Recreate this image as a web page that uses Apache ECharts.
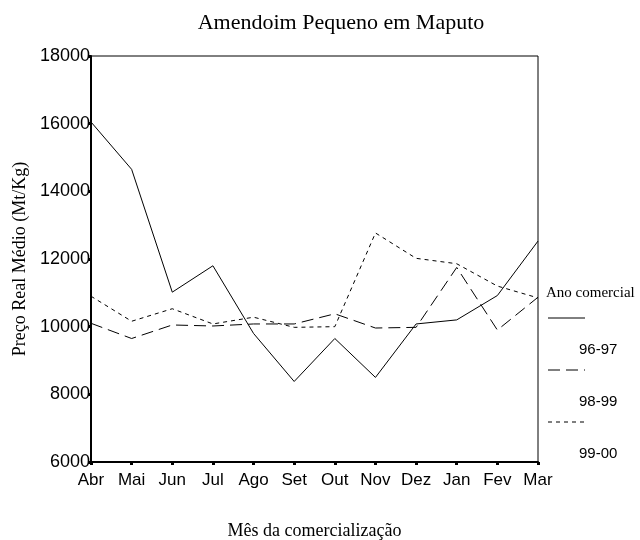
<!DOCTYPE html>
<html>
<head>
<meta charset="utf-8">
<script src="https://cdn.jsdelivr.net/npm/echarts@6/dist/echarts.min.js"></script>
<style>
  html, body { margin: 0; padding: 0; background: #fff; }
  #chartDom { width: 640px; height: 540px; }
</style>
</head>
<body>
<div id="chartDom"></div>
<script>
// dados
var meses = ['Abr', 'Mai', 'Jun', 'Jul', 'Ago', 'Set', 'Out', 'Nov', 'Dez', 'Jan', 'Fev', 'Mar'];
var anos = ['96-97', '98-99', '99-00'];
var preco9697 = [16050, 14650, 11020, 11800, 9800, 8380, 9650, 8500, 10080, 10200, 10920, 12530];
var preco9899 = [10100, 9650, 10050, 10020, 10080, 10080, 10380, 9960, 9980, 11750, 9900, 10870];
var preco9900 = [10900, 10160, 10530, 10080, 10280, 9980, 10000, 12770, 12020, 11860, 11200, 10850];

var tracos = ['solid', [12, 6], [4, 4]];
var valores = [preco9697, preco9899, preco9900];

var chartDom = document.getElementById('chartDom');
var myChart = echarts.init(chartDom);

var series = anos.map(function (nome, i) {
  return {
    name: nome,
    type: 'line',
    data: valores[i],
    symbol: 'none',
    lineStyle: { color: '#000', width: 1, type: tracos[i] },
    silent: true
  };
});

// legenda desenhada à direita (linha em cima, texto em baixo)
var legenda = [{
  type: 'text', left: 546, top: 286,
  style: { text: 'Ano comercial', font: '15px "Liberation Serif"', fill: '#000' }
}];
anos.forEach(function (nome, i) {
  var y0 = 318 + i * 52;
  legenda.push({
    type: 'line',
    shape: { x1: 548, y1: y0, x2: 585, y2: y0 },
    style: { stroke: '#000', lineWidth: 1, lineDash: tracos[i] === 'solid' ? null : tracos[i] }
  });
  legenda.push({
    type: 'text', left: 579, top: y0 + 24,
    style: { text: nome, font: '15px "Liberation Sans"', fill: '#000' }
  });
});

var option = {
  backgroundColor: '#fff',
  animation: false,
  title: {
    text: 'Amendoim Pequeno em Maputo',
    left: 336, top: 7, textAlign: 'center',
    textStyle: { fontFamily: 'Liberation Serif', fontSize: 22, fontWeight: 'normal', color: '#000' }
  },
  grid: {
    left: 91, right: 102, top: 56, bottom: 78,
    outerBoundsMode: 'none',
    containLabel: false,
    show: true, borderColor: '#000', borderWidth: 1
  },
  xAxis: {
    type: 'category',
    data: meses,
    boundaryGap: false,
    name: 'Mês da comercialização',
    nameLocation: 'middle',
    nameGap: 60,
    nameTextStyle: { fontFamily: 'Liberation Serif', fontSize: 18, color: '#000' },
    axisLine: { lineStyle: { color: '#000', width: 2 } },
    axisTick: { interval: 0, length: 3, lineStyle: { color: '#000', width: 3 } },
    axisLabel: { interval: 0, hideOverlap: false, fontFamily: 'Liberation Sans', fontSize: 17, color: '#000', margin: 10 },
    splitLine: { show: false }
  },
  yAxis: {
    type: 'value',
    min: 6000, max: 18000, interval: 2000,
    name: 'Preço Real Médio (Mt/Kg)',
    nameLocation: 'middle',
    nameGap: 62,
    nameTextStyle: { fontFamily: 'Liberation Serif', fontSize: 18, color: '#000' },
    axisLine: { show: true, lineStyle: { color: '#000', width: 2 } },
    axisTick: { show: true, length: 3, lineStyle: { color: '#000', width: 3 } },
    axisLabel: {
      fontFamily: 'Liberation Sans', fontSize: 18, color: '#000', margin: 1,
      formatter: function (v) { return String(v); }
    },
    splitLine: { show: false }
  },
  graphic: legenda,
  series: series
};

option && myChart.setOption(option);
</script>
</body>
</html>
